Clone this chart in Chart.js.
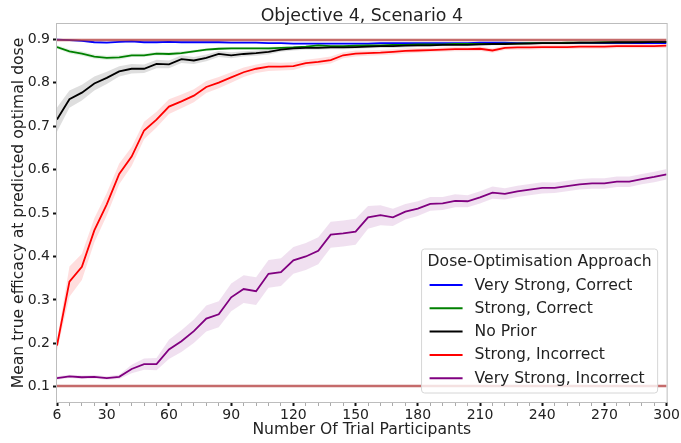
<!DOCTYPE html>
<html>
<head>
<meta charset="utf-8">
<script src="https://cdn.jsdelivr.net/npm/chart.js@4.4.1/dist/chart.umd.min.js"></script>
<style>
  html, body { margin: 0; padding: 0; background: #fff; }
</style>
</head>
<body>
<canvas id="effChart" width="681" height="443"></canvas>
<script>
// number of trial participants at each evaluation
const participants = [6, 12, 18, 24, 30, 36, 42, 48, 54, 60,
  66, 72, 78, 84, 90, 96, 102, 108, 114, 120,
  126, 132, 138, 144, 150, 156, 162, 168, 174, 180,
  186, 192, 198, 204, 210, 216, 222, 228, 234, 240,
  246, 252, 258, 264, 270, 276, 282, 288, 294, 300];

const xTickLabels = [6, 30, 60, 90, 120, 150, 180, 210, 240, 270, 300];
const yTickLabels = [0.1, 0.2, 0.3, 0.4, 0.5, 0.6, 0.7, 0.8, 0.9];

const seriesNames = ['Very Strong, Correct', 'Strong, Correct', 'No Prior', 'Strong, Incorrect', 'Very Strong, Incorrect'];
const seriesColors = ['#0000ff', '#008000', '#000000', '#ff0000', '#800080'];
const bandColors = ['rgba(0,0,255,0.12)', 'rgba(0,128,0,0.12)', 'rgba(0,0,0,0.13)', 'rgba(255,0,0,0.13)', 'rgba(128,0,128,0.12)'];

// mean true efficacy
const effVeryStrongCorrect = [0.899, 0.898, 0.896, 0.893, 0.892, 0.894, 0.895, 0.893, 0.893, 0.894,
  0.893, 0.893, 0.893, 0.893, 0.892, 0.892, 0.892, 0.891, 0.891, 0.890,
  0.890, 0.890, 0.890, 0.890, 0.890, 0.890, 0.891, 0.891, 0.891, 0.891,
  0.891, 0.891, 0.891, 0.891, 0.892, 0.892, 0.892, 0.891, 0.891, 0.891,
  0.891, 0.891, 0.891, 0.891, 0.891, 0.891, 0.891, 0.891, 0.891, 0.891];
const effStrongCorrect = [0.882, 0.872, 0.867, 0.860, 0.857, 0.858, 0.863, 0.863, 0.867, 0.866,
  0.868, 0.872, 0.876, 0.878, 0.879, 0.879, 0.879, 0.879, 0.880, 0.881,
  0.883, 0.886, 0.884, 0.884, 0.885, 0.886, 0.886, 0.887, 0.887, 0.888,
  0.888, 0.888, 0.889, 0.889, 0.889, 0.889, 0.890, 0.890, 0.891, 0.891,
  0.891, 0.892, 0.892, 0.892, 0.893, 0.893, 0.893, 0.894, 0.894, 0.894];
const effNoPrior = [0.715, 0.762, 0.777, 0.798, 0.811, 0.826, 0.832, 0.832, 0.843, 0.842,
  0.854, 0.851, 0.857, 0.866, 0.863, 0.866, 0.868, 0.871, 0.876, 0.879,
  0.880, 0.880, 0.881, 0.881, 0.882, 0.883, 0.884, 0.884, 0.885, 0.886,
  0.886, 0.887, 0.887, 0.887, 0.888, 0.889, 0.889, 0.890, 0.890, 0.891,
  0.891, 0.891, 0.892, 0.892, 0.892, 0.893, 0.893, 0.893, 0.894, 0.894];
const effStrongIncorrect = [0.195, 0.342, 0.376, 0.460, 0.520, 0.590, 0.630, 0.690, 0.715, 0.745,
  0.757, 0.770, 0.790, 0.800, 0.812, 0.824, 0.832, 0.837, 0.837, 0.838,
  0.845, 0.848, 0.852, 0.863, 0.867, 0.868, 0.869, 0.871, 0.873, 0.874,
  0.875, 0.876, 0.877, 0.877, 0.878, 0.874, 0.880, 0.881, 0.881, 0.882,
  0.882, 0.882, 0.883, 0.883, 0.883, 0.884, 0.884, 0.884, 0.884, 0.885];
const effVeryStrongIncorrect = [0.120, 0.124, 0.122, 0.123, 0.120, 0.123, 0.141, 0.152, 0.152, 0.186,
  0.205, 0.228, 0.257, 0.267, 0.306, 0.325, 0.320, 0.360, 0.364, 0.391,
  0.400, 0.413, 0.450, 0.453, 0.457, 0.490, 0.495, 0.490, 0.503, 0.510,
  0.521, 0.522, 0.528, 0.527, 0.536, 0.547, 0.544, 0.550, 0.554, 0.558,
  0.558, 0.562, 0.566, 0.568, 0.568, 0.572, 0.572, 0.578, 0.583, 0.589];

// half-width of the shaded band around each line
const errVeryStrongCorrect = [0.002, 0.002, 0.002, 0.002, 0.002, 0.002, 0.002, 0.002, 0.002, 0.002,
  0.002, 0.002, 0.002, 0.002, 0.002, 0.002, 0.002, 0.002, 0.002, 0.002,
  0.002, 0.002, 0.002, 0.002, 0.002, 0.002, 0.002, 0.002, 0.002, 0.002,
  0.002, 0.002, 0.002, 0.002, 0.002, 0.002, 0.002, 0.002, 0.002, 0.002,
  0.002, 0.002, 0.002, 0.002, 0.002, 0.002, 0.002, 0.002, 0.002, 0.002];
const errStrongCorrect = [0.004, 0.005, 0.005, 0.005, 0.005, 0.005, 0.004, 0.004, 0.004, 0.004,
  0.004, 0.003, 0.003, 0.003, 0.003, 0.003, 0.003, 0.003, 0.003, 0.003,
  0.002, 0.002, 0.002, 0.002, 0.002, 0.002, 0.002, 0.002, 0.002, 0.002,
  0.002, 0.002, 0.002, 0.002, 0.002, 0.002, 0.002, 0.002, 0.002, 0.002,
  0.002, 0.002, 0.002, 0.002, 0.002, 0.002, 0.002, 0.002, 0.002, 0.002];
const errNoPrior = [0.028, 0.020, 0.018, 0.016, 0.014, 0.012, 0.011, 0.010, 0.010, 0.009,
  0.009, 0.008, 0.008, 0.007, 0.007, 0.006, 0.006, 0.006, 0.005, 0.005,
  0.004, 0.004, 0.004, 0.004, 0.004, 0.004, 0.004, 0.004, 0.004, 0.004,
  0.003, 0.003, 0.003, 0.003, 0.003, 0.003, 0.003, 0.003, 0.003, 0.003,
  0.003, 0.003, 0.003, 0.003, 0.003, 0.003, 0.003, 0.003, 0.003, 0.003];
const errStrongIncorrect = [0.012, 0.035, 0.030, 0.028, 0.026, 0.024, 0.022, 0.020, 0.018, 0.017,
  0.016, 0.015, 0.014, 0.013, 0.012, 0.011, 0.010, 0.010, 0.009, 0.009,
  0.008, 0.008, 0.008, 0.007, 0.007, 0.006, 0.006, 0.006, 0.006, 0.005,
  0.005, 0.005, 0.005, 0.005, 0.005, 0.005, 0.005, 0.005, 0.005, 0.005,
  0.005, 0.005, 0.005, 0.005, 0.005, 0.005, 0.005, 0.005, 0.005, 0.005];
const errVeryStrongIncorrect = [0.004, 0.004, 0.004, 0.004, 0.004, 0.005, 0.010, 0.013, 0.014, 0.022,
  0.025, 0.027, 0.030, 0.030, 0.032, 0.032, 0.032, 0.032, 0.032, 0.031,
  0.031, 0.031, 0.030, 0.030, 0.030, 0.026, 0.023, 0.020, 0.018, 0.017,
  0.016, 0.015, 0.015, 0.014, 0.014, 0.014, 0.013, 0.013, 0.013, 0.013,
  0.012, 0.012, 0.012, 0.012, 0.012, 0.012, 0.012, 0.012, 0.012, 0.012];

// horizontal reference lines (best and worst attainable efficacy)
const refLevels = [0.898, 0.102];

const chartTitle = 'Objective 4, Scenario 4';
const legendTitle = 'Dose-Optimisation Approach';
const fontFamily = "'DejaVu Sans', sans-serif";

const seriesValues = [effVeryStrongCorrect, effStrongCorrect, effNoPrior, effStrongIncorrect, effVeryStrongIncorrect];
const seriesErrors = [errVeryStrongCorrect, errStrongCorrect, errNoPrior, errStrongIncorrect, errVeryStrongIncorrect];

function points(vals, sign, errs) {
  return participants.map((x, i) => ({ x: x, y: vals[i] + sign * (errs ? errs[i] : 0) }));
}

const datasets = [];
refLevels.forEach(level => {
  datasets.push({
    data: [{ x: participants[0], y: level }, { x: participants[participants.length - 1], y: level }],
    borderColor: 'rgba(178,58,58,0.75)', borderWidth: 2.5, pointRadius: 0, fill: false, order: 0
  });
});
seriesValues.forEach((vals, s) => {
  datasets.push({ data: points(vals, -1, seriesErrors[s]), borderWidth: 0, pointRadius: 0, fill: false, order: 30 - s });
  datasets.push({ data: points(vals, 1, seriesErrors[s]), borderWidth: 0, pointRadius: 0, fill: '-1', backgroundColor: bandColors[s], order: 30 - s });
  datasets.push({ label: seriesNames[s], data: points(vals, 0), borderColor: seriesColors[s], borderWidth: 1.8, pointRadius: 0, fill: false, order: 10 - s });
});

const isMajor = v => xTickLabels.includes(v);

const decor = {
  id: 'decor',
  afterDraw(chart) {
    const ctx = chart.ctx, a = chart.chartArea;
    ctx.save();
    // frame
    ctx.strokeStyle = '#bdbdbd';
    ctx.lineWidth = 1;
    ctx.strokeRect(a.left - 0.5, a.top - 0.5, a.right - a.left + 1, a.bottom - a.top + 1);
    // title
    ctx.fillStyle = '#222';
    ctx.font = '17.4px ' + fontFamily;
    ctx.textAlign = 'center';
    ctx.textBaseline = 'alphabetic';
    ctx.fillText(chartTitle, (a.left + a.right) / 2, 21);
    // legend
    const items = chart.data.datasets.filter(d => d.label);
    ctx.font = '15.6px ' + fontFamily;
    const titleW = ctx.measureText(legendTitle).width;
    const maxW = Math.max(...items.map(d => ctx.measureText(d.label).width));
    const w = Math.max(titleW + 12, 53 + maxW + 10);
    const h = 144;
    const x0 = a.right - 9 - w, y0 = a.bottom - 9 - h;
    ctx.beginPath();
    ctx.roundRect(x0, y0, w, h, 3);
    ctx.fillStyle = 'rgba(255,255,255,0.8)';
    ctx.fill();
    ctx.strokeStyle = '#d6d6d6';
    ctx.stroke();
    ctx.fillStyle = '#222';
    ctx.textAlign = 'center';
    ctx.textBaseline = 'middle';
    ctx.fillText(legendTitle, x0 + w / 2, y0 + 13);
    ctx.textAlign = 'left';
    items.forEach((d, i) => {
      const y = y0 + 36 + i * 23.3;
      ctx.strokeStyle = d.borderColor;
      ctx.lineWidth = 2;
      ctx.beginPath();
      ctx.moveTo(x0 + 8, y);
      ctx.lineTo(x0 + 41, y);
      ctx.stroke();
      ctx.fillStyle = '#222';
      ctx.fillText(d.label, x0 + 53, y + 0.5);
    });
    ctx.restore();
  }
};

new Chart(document.getElementById('effChart'), {
  type: 'line',
  data: { datasets: datasets },
  options: {
    responsive: false,
    animation: false,
    devicePixelRatio: 1,
    layout: { padding: { top: 24, right: 13, bottom: 0, left: 0 } },
    plugins: { legend: { display: false }, tooltip: { enabled: false }, title: { display: false } },
    elements: { line: { tension: 0 } },
    scales: {
      x: {
        type: 'linear',
        min: 6,
        max: 300,
        afterBuildTicks: ax => { ax.ticks = participants.map(v => ({ value: v })); },
        afterFit: ax => { ax.height = 41; },
        border: { display: false },
        grid: {
          drawOnChartArea: false,
          tickLength: 4,
          tickColor: c => (c.tick && isMajor(c.tick.value)) ? '#111' : '#aaa',
          tickWidth: c => (c.tick && isMajor(c.tick.value)) ? 2 : 1
        },
        ticks: {
          autoSkip: false,
          maxRotation: 0,
          padding: 1,
          color: '#222',
          font: { family: fontFamily, size: 14 },
          callback: v => isMajor(v) ? String(v) : ''
        },
        title: {
          display: true,
          text: 'Number Of Trial Participants',
          color: '#222',
          font: { family: fontFamily, size: 15.6 },
          padding: { top: 0, bottom: 3.6 }
        }
      },
      y: {
        min: 0.065,
        max: 0.935,
        afterBuildTicks: ax => { ax.ticks = yTickLabels.map(v => ({ value: v })); },
        afterFit: ax => { ax.width = 57; },
        border: { display: false },
        grid: { drawOnChartArea: false, tickLength: 4, tickColor: '#111', tickWidth: 2 },
        ticks: {
          padding: 3,
          color: '#222',
          font: { family: fontFamily, size: 14 },
          callback: v => v.toFixed(1)
        },
        title: {
          display: true,
          text: 'Mean true efficacy at predicted optimal dose',
          color: '#222',
          font: { family: fontFamily, size: 15.6 },
          padding: { top: 10, bottom: 0 }
        }
      }
    }
  },
  plugins: [decor]
});
</script>
</body>
</html>
